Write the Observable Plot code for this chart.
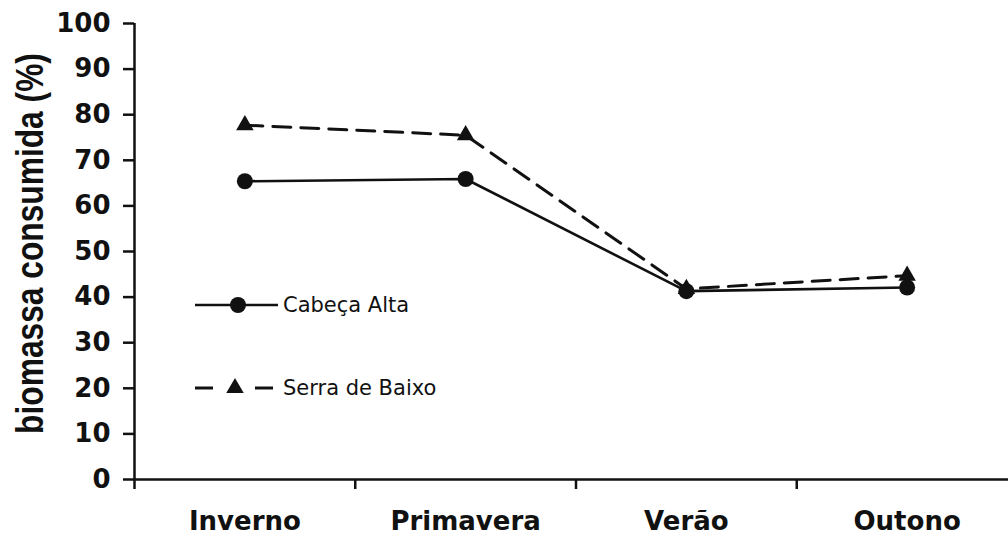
<!DOCTYPE html>
<html>
<head>
<meta charset="utf-8">
<script src="https://cdn.jsdelivr.net/npm/d3@7"></script>
<script src="https://cdn.jsdelivr.net/npm/@observablehq/plot@0.6"></script>
<style>
  html, body { margin: 0; padding: 0; background: #fff; }
  #chart { position: relative; width: 1008px; height: 539px; }
</style>
</head>
<body>
<div id="chart"></div>
<script>
const categories = ["Inverno", "Primavera", "Verão", "Outono"];
const cabecaAlta = [65.4, 65.9, 41.3, 42.1];
const serraDeBaixo = [77.7, 75.5, 41.8, 44.7];
const yTicks = [0, 10, 20, 30, 40, 50, 60, 70, 80, 90, 100];
const seriesNames = ["Cabeça Alta", "Serra de Baixo"];
const yTitle = "biomassa consumida (%)";

const rowsA = categories.map((c, i) => ({cat: c, i: i + 0.5, v: cabecaAlta[i]}));
const rowsB = categories.map((c, i) => ({cat: c, i: i + 0.5, v: serraDeBaixo[i]}));
const ink = "#111";

const plot = Plot.plot({
  width: 1008,
  height: 539,
  marginLeft: 134,
  marginRight: 0,
  marginTop: 23,
  marginBottom: 60,
  style: {background: "#fff", color: ink, overflow: "visible"},
  x: {domain: [0, 4], range: [134, 1017]},
  y: {domain: [0, 100]},
  marks: [
    Plot.axisY({ticks: yTicks, tickSize: 11, tickPadding: 13, fontSize: 26, fontWeight: "bold",
      fontFamily: "DejaVu Sans", strokeWidth: 2.5, label: null}),
    Plot.axisX({ticks: [0, 1, 2, 3], tickSize: 10, tickFormat: () => "", strokeWidth: 2.5, label: null}),
    Plot.axisX({ticks: categories.map((c, i) => i + 0.5), tickSize: 0, tickPadding: 32,
      tickFormat: d => categories[Math.round(d - 0.5)], fontSize: 26, fontWeight: "bold",
      fontFamily: "DejaVu Sans", label: null}),
    Plot.ruleY([0], {stroke: ink, strokeWidth: 2.5}),
    Plot.ruleX([0], {stroke: ink, strokeWidth: 2.5}),
    Plot.text([yTitle], {frameAnchor: "left", dx: -104, dy: -8, rotate: -90, fontSize: 38,
      textAnchor: "middle",
      fontWeight: "bold", fontFamily: "Liberation Sans, Arial, sans-serif", fill: ink}),
    Plot.line(rowsB, {x: "i", y: "v", stroke: ink, strokeWidth: 3, strokeDasharray: "18,10"}),
    Plot.line(rowsA, {x: "i", y: "v", stroke: ink, strokeWidth: 2.6}),
    Plot.dot(rowsB, {x: "i", y: "v", symbol: "triangle", r: 6.5, fill: ink, stroke: "none"}),
    Plot.dot(rowsA, {x: "i", y: "v", r: 8, fill: ink, stroke: "none"})
  ]
});

// condense the y title horizontally (in its own rotated frame) like the reference
d3.select(plot).selectAll("text").filter(function() { return this.textContent === yTitle; })
  .each(function() {
    const t = this.getAttribute("transform") || "";
    this.setAttribute("transform", t + " scale(0.835,1)");
  });

// legend
const svg = d3.select(plot);
const lg = svg.append("g").attr("class", "legend").attr("text-anchor", "start");
const l1 = lg.append("g").attr("transform", "translate(0,305)");
l1.append("line").attr("x1", 195).attr("x2", 278).attr("y1", 0).attr("y2", 0).attr("stroke", ink).attr("stroke-width", 2.6);
l1.append("circle").attr("cx", 238).attr("cy", 0).attr("r", 8).attr("fill", ink);
l1.append("text").attr("x", 283).attr("y", 0).attr("dy", "0.35em").attr("text-anchor", "start").text(seriesNames[0])
  .attr("font-family", "DejaVu Sans").attr("font-size", 21).attr("fill", ink);
const l2 = lg.append("g").attr("transform", "translate(0,388)");
l2.append("line").attr("x1", 195).attr("x2", 213).attr("y1", 0).attr("y2", 0).attr("stroke", ink).attr("stroke-width", 3);
l2.append("line").attr("x1", 255).attr("x2", 273).attr("y1", 0).attr("y2", 0).attr("stroke", ink).attr("stroke-width", 3);
l2.append("path").attr("transform", "translate(235,0)").attr("d", d3.symbol(d3.symbolTriangle, Math.PI * 6.5 * 6.5)()).attr("fill", ink);
l2.append("text").attr("x", 283).attr("y", 0).attr("dy", "0.35em").attr("text-anchor", "start").text(seriesNames[1])
  .attr("font-family", "DejaVu Sans").attr("font-size", 21).attr("fill", ink);

document.getElementById("chart").appendChild(plot);
</script>
</body>
</html>
